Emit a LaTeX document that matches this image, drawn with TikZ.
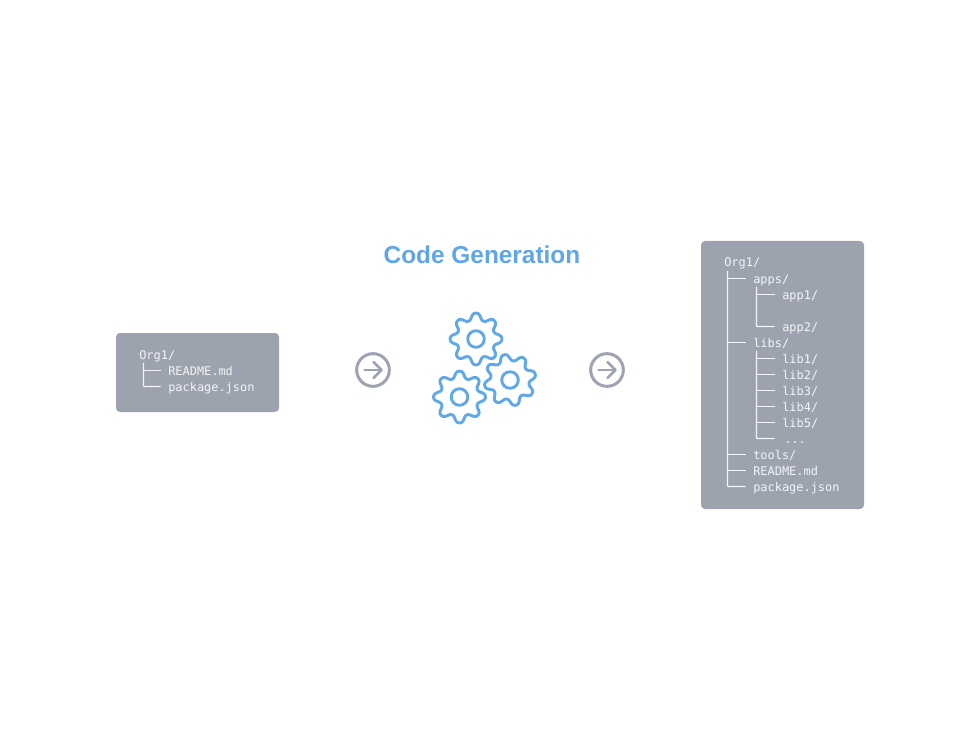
\documentclass[tikz,border=0pt]{standalone}
\usepackage{fontspec}
\usetikzlibrary{calc}
\setmainfont{Liberation Sans}
\setmonofont{DejaVu Sans Mono}
\definecolor{boxgray}{HTML}{9CA3AF}
\definecolor{ringgray}{HTML}{9EA2B2}
\definecolor{gearblue}{HTML}{60A8E8}
\definecolor{titleblue}{HTML}{60A5E8}
\definecolor{treewhite}{HTML}{F3F4F6}
\tikzset{
  panel/.style={fill=boxgray,rounded corners=3pt,draw=none},
  code/.style={anchor=base west,inner sep=0pt,text=treewhite,font=\ttfamily\fontsize{8.95pt}{10pt}\selectfont},
  tree/.style={draw=treewhite,line width=0.9pt,rounded corners=0.6pt},
  ring/.style={circle,draw=ringgray,line width=2.25pt,minimum size=24.5pt,inner sep=0pt},
  ringarrow/.style={draw=ringgray,line width=1.9pt,line cap=round,line join=round},
  gearline/.style={draw=gearblue,line width=2.2pt,line join=round},
}
\newcommand{\gearshape}[3]{% cx, cy, rotation
  \draw[gearline,smooth,samples=289,domain=0:360,variable=\t]
    plot ({#1+(22.6+3.5*cos(8*(\t-#3))-0.25*cos(24*(\t-#3)))*sin(\t)},{#2-(22.6+3.5*cos(8*(\t-#3))-0.25*cos(24*(\t-#3)))*cos(\t)}) -- cycle;
  \draw[gearline] (#1,#2) circle [radius=8.3];
}
\begin{document}
\begin{tikzpicture}[x=0.75pt,y=-0.75pt]
\useasboundingbox (0,0) rectangle (980,748);
% panels
\fill[panel] (116,333) rectangle (279,412);
\fill[panel] (701,241) rectangle (864,509);
% title
\node[inner sep=0pt,text=titleblue,font=\fontsize{18.3pt}{20pt}\selectfont\bfseries] (title) at (482,255) {Code Generation};
% arrows
\node[ring] (ringa) at (373,370) {};
\coordinate (a1) at (364.5,370); \coordinate (a2) at (381.5,370);
\draw[ringarrow] (a1) -- (a2);
\draw[ringarrow] ($(a2)+(-8,-8)$) -- (a2) -- ($(a2)+(-8,8)$);
\node[ring] (ringb) at (607,370) {};
\coordinate (b1) at (598.5,370); \coordinate (b2) at (615.5,370);
\draw[ringarrow] (b1) -- (b2);
\draw[ringarrow] ($(b2)+(-8,-8)$) -- (b2) -- ($(b2)+(-8,8)$);
% gears
\gearshape{476}{339}{0}
\gearshape{510}{380}{32}
\gearshape{459.5}{397}{0}
% left tree
\node[code] (lorg) at (139,359) {Org1/};
\node[code] (lread) at (168,375) {README.md};
\node[code] (lpack) at (168,391) {package.json};
\coordinate (ltop) at (143.5,363);
\coordinate (lr) at (160.5,370.5);
\coordinate (lp) at (160.5,386.5);
\draw[tree] (ltop) |- (lp);
\draw[tree] (ltop |- lr) -- (lr);
% right tree text
\node[code] (rorg) at (724,267) {Org1/};
\node[code] (apps) at (753,283) {apps/};
\node[code] (app1) at (782,299) {app1/};
\node[code] (app2) at (782,331) {app2/};
\node[code] (libs) at (753,347) {libs/};
\node[code] (lib1) at (782,363) {lib1/};
\node[code] (lib2) at (782,379) {lib2/};
\node[code] (lib3) at (782,395) {lib3/};
\node[code] (lib4) at (782,411) {lib4/};
\node[code] (lib5) at (782,427) {lib5/};
\node[code] (dots) at (782,443) {\,...};
\node[code] (tools) at (753,459) {tools/};
\node[code] (rread) at (753,475) {README.md};
\node[code] (rpack) at (753,491) {package.json};
% right tree outer
\coordinate (rtop) at (727.5,271);
\coordinate (e1) at (745.5,278.5);
\coordinate (e2) at (745.5,342.5);
\coordinate (e3) at (745.5,454.5);
\coordinate (e4) at (745.5,470.5);
\coordinate (e5) at (745.5,486.5);
\draw[tree] (rtop) |- (e5);
\foreach \e in {e1,e2,e3,e4}{\draw[tree] (rtop |- \e) -- (\e);}
% apps subtree
\coordinate (atop) at (756.5,287);
\coordinate (f1) at (774.5,294.5);
\coordinate (f2) at (774.5,326.5);
\draw[tree] (atop) |- (f2);
\draw[tree] (atop |- f1) -- (f1);
% libs subtree
\coordinate (ltop2) at (756.5,351);
\coordinate (g1) at (774.5,358.5);
\coordinate (g2) at (774.5,374.5);
\coordinate (g3) at (774.5,390.5);
\coordinate (g4) at (774.5,406.5);
\coordinate (g5) at (774.5,422.5);
\coordinate (g6) at (774.5,438.5);
\draw[tree] (ltop2) |- (g6);
\foreach \g in {g1,g2,g3,g4,g5}{\draw[tree] (ltop2 |- \g) -- (\g);}
\end{tikzpicture}
\end{document}
